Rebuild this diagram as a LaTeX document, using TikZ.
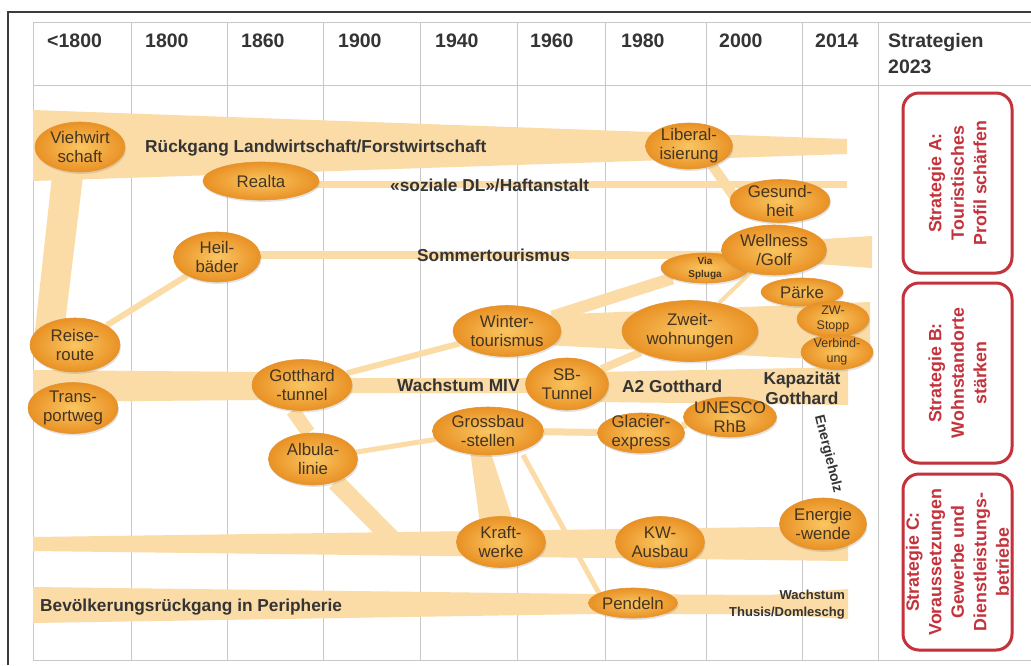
\documentclass[tikz,border=0pt]{standalone}
\usepackage{fontspec}
\setmainfont{Liberation Sans}
\usetikzlibrary{shapes.geometric,shadows}
\pgfdeclarelayer{lgrid}
\pgfdeclarelayer{lband}
\pgfsetlayers{lgrid,lband,main}
\definecolor{band}{RGB}{251,219,166}
\definecolor{gridc}{RGB}{200,200,200}
\definecolor{nin}{RGB}{250,198,98}
\definecolor{nout}{RGB}{233,145,36}
\definecolor{nedge}{RGB}{226,150,55}
\definecolor{ntxt}{RGB}{68,52,32}
\definecolor{lbl}{RGB}{52,52,52}
\definecolor{strat}{RGB}{196,50,60}
\definecolor{frame}{RGB}{60,60,60}
\newcommand\fsz[2]{\fontsize{#1}{#2}\selectfont}
\begin{document}
\begin{tikzpicture}[x=1pt,y=-1pt,
  nd/.style n args={3}{ellipse, minimum width=#1pt, minimum height=#2pt, inner sep=0pt,
     draw=nedge, line width=0.6pt, inner color=nin, outer color=nout,
     drop shadow={opacity=0.22, shadow xshift=1pt, shadow yshift=-2pt},
     label={[ntext]center:#3}},
  ntext/.style={align=center, text=ntxt, font=\fsz{16.8}{19}, inner sep=0pt},
  nsmall/.style={align=center, text=ntxt, font=\fsz{12.5}{15}, inner sep=0pt},
  lab/.style={text=lbl, font=\bfseries\fsz{17.3}{20}, inner sep=0pt},
  head/.style={text=lbl, font=\bfseries\fsz{19.5}{26}, inner sep=0pt, anchor=base west},
  bandfill/.style={fill=band},
  bandline/.style={draw=band, line cap=butt},
  gridline/.style={draw=gridc, line width=0.9pt},
  stratbox/.style={draw=strat, line width=3pt, rounded corners=16pt, fill=white,
     minimum width=109pt, inner sep=0pt,
     drop shadow={opacity=0.25, shadow xshift=1.5pt, shadow yshift=-1.5pt}},
  strattext/.style={text=strat, font=\bfseries\fsz{17.8}{22.5}, align=center, rotate=90, inner sep=0pt}
]
\useasboundingbox (0,0) rectangle (1031,665);

% ---------- grid ----------
\begin{pgfonlayer}{lgrid}
\fill[white] (0,0) rectangle (1031,665);
\foreach \x in {33,131,227,323,420,517,605,706,802,878}
  \draw[gridline] (\x,22) -- (\x,660);
\draw[gridline] (33,22) -- (1031,22);
\draw[gridline] (33,85) -- (1031,85);
\draw[gridline] (33,660) -- (1031,660);
\end{pgfonlayer}
\draw[frame, line width=1.2pt] (8,665) -- (8,12) -- (1031,12);

% ---------- header ----------
\node[head] (h0) at (47,47) {<1800};
\node[head] (h1) at (145,47) {1800};
\node[head] (h2) at (241,47) {1860};
\node[head] (h3) at (338,47) {1900};
\node[head] (h4) at (435,47) {1940};
\node[head] (h5) at (530,47) {1960};
\node[head] (h6) at (621,47) {1980};
\node[head] (h7) at (719,47) {2000};
\node[head] (h8) at (815,47) {2014};
\node[head] (h9) at (888,47) {Strategien};
\node[head] (h10) at (888,73) {2023};

% ---------- nodes ----------
\node[nd={90}{50}{Viehwirt\\schaft}] (vieh) at (80,147) {};
\node[nd={116}{38}{Realta}] (realta) at (261,181) {};
\node[nd={87}{50}{Heil-\\bäder}] (heil) at (217,257) {};
\node[nd={90}{54}{Reise-\\route}] (reise) at (75,345) {};
\node[nd={90}{51}{Trans-\\portweg}] (trans) at (73,408) {};
\node[nd={100}{51}{Gotthard\\-tunnel}] (gotthard) at (302,385) {};
\node[nd={89}{52}{Albula-\\linie}] (albula) at (313,459) {};
\node[nd={108}{51}{Winter-\\tourismus}] (winter) at (507,331) {};
\node[nd={83}{52}{SB-\\Tunnel}] (sb) at (567,384) {};
\node[nd={111}{48}{Grossbau\\-stellen}] (grossbau) at (488,431) {};
\node[nd={89}{51}{Kraft-\\werke}] (kraft) at (501,542) {};
\node[nd={89}{51}{KW-\\Ausbau}] (kw) at (660,542) {};
\node[nd={89}{30}{Pendeln}] (pendeln) at (633,603) {};
\node[nd={87}{40}{Glacier-\\express}] (glacier) at (641,433) {};
\node[nd={93}{40}{UNESCO\\RhB}] (unesco) at (730,417) {};
\node[nd={136}{61}{Zweit-\\wohnungen}] (zweit) at (690,331) {};
\node[nd={87}{46}{Liberal-\\isierung}] (liberal) at (689,146) {};
\node[nd={100}{43}{Gesund-\\heit}] (gesund) at (780,201) {};
\node[nd={88}{30}{}, label={[nsmall, font=\bfseries\fsz{10}{13}]center:Via\\Spluga}] (via) at (705,268) {};
\node[nd={105}{50}{Wellness\\/Golf}] (wellness) at (774,250) {};
\node[nd={82}{28}{Pärke}] (parke) at (802,292) {};
\node[nd={72}{36}{}, label={[nsmall]center:ZW-\\Stopp}] (zw) at (833,319) {};
\node[nd={72}{35}{}, label={[nsmall]center:Verbind-\\ung}] (verb) at (837,352) {};
\node[nd={87}{52}{Energie\\-wende}] (energie) at (823,524) {};

\coordinate (albend) at (395,542);
\coordinate (kapend) at (772,397);
\coordinate (gp1) at (523,455);
\coordinate (gp2) at (600,595);

% ---------- bands ----------
\begin{pgfonlayer}{lband}
\fill[bandfill] (33,110) -- (847,139) -- (847,154) -- (33,181) -- cycle;
\fill[bandfill] (52,176) -- (83,176) -- (63,340) -- (34,340) -- cycle;
\fill[bandfill] (300,181) rectangle (847,188);
\fill[bandfill] (255,251) rectangle (800,259);
\fill[bandfill] (790,241) -- (872,236) -- (872,268) -- (790,262) -- cycle;
\fill[bandfill] (545,315) -- (870,302) -- (870,362) -- (545,345) -- cycle;
\fill[bandfill] (33,370) -- (255,372) -- (355,378) -- (525,378) -- (600,372) -- (848,367)
   -- (848,405) -- (600,402) -- (525,393) -- (355,393) -- (255,400) -- (33,402) -- cycle;
\fill[bandfill] (33,537) -- (848,526) -- (848,561) -- (33,551) -- cycle;
\fill[bandfill] (33,587) -- (590,594) -- (770,595) -- (848,589) -- (848,619) -- (770,614)
   -- (590,614) -- (33,623) -- cycle;
\fill[bandfill] (470,450) -- (490,450) -- (514,524) -- (480,524) -- cycle;
\draw[bandline, line width=6pt] (reise) -- (heil);
\draw[bandline, line width=10pt] (712,165) -- (742,208);
\draw[bandline, line width=6pt] (gotthard) -- (winter);
\draw[bandline, line width=12pt] (winter) -- (via);
\draw[bandline, line width=8pt] (sb) -- (zweit);
\draw[bandline, line width=4pt] (wellness) -- (zweit);
\draw[bandline, line width=14pt] (gotthard.250) -- (albula.100);
\draw[bandline, line width=18pt] (albula) -- (albend);
\draw[bandline, line width=5pt] (albula) -- (grossbau);
\draw[bandline, line width=7pt] (grossbau) -- (glacier);
\draw[bandline, line width=7pt] (glacier) -- (unesco);
\draw[bandline, line width=7pt] (unesco) -- (kapend);
\draw[bandline, line width=5pt] (gp1) -- (gp2);
\end{pgfonlayer}

% ---------- labels ----------
\node[lab, anchor=base west] (l1) at (145,152) {Rückgang Landwirtschaft/Forstwirtschaft};
\node[lab, anchor=base west] (l2) at (390,191) {«soziale DL»/Haftanstalt};
\node[lab, anchor=base west] (l3) at (417,261) {Sommertourismus};
\node[lab, anchor=base west] (l4) at (397,391) {Wachstum MIV};
\node[lab, anchor=base west] (l5) at (622,392) {A2 Gotthard};
\node[lab, align=center] (l6) at (802,388) {Kapazität\\Gotthard};
\node[lab, anchor=base west] (l7) at (40,611) {Bevölkerungsrückgang in Peripherie};
\node[lab, align=right, anchor=east, font=\bfseries\fsz{13}{17}] (l8) at (845,605) {Wachstum\\Thusis/Domleschg};
\node[lab, font=\bfseries\fsz{14}{17}, rotate=-76] (l9) at (828,454) {Energieholz};

% ---------- strategies ----------
\node[stratbox, minimum height=180pt] (sa) at (957.5,183) {};
\node[strattext] (sat) at (sa) {Strategie A:\\Touristisches\\Profil schärfen};
\node[stratbox, minimum height=180pt] (sbx) at (957.5,373) {};
\node[strattext] (sbt) at (sbx) {Strategie B:\\Wohnstandorte\\stärken};
\node[stratbox, minimum height=176pt] (sc) at (957.5,562) {};
\node[strattext] (sct) at (sc) {Strategie C:\\Voraussetzungen\\Gewerbe und\\Dienstleistungs-\\betriebe};
\end{tikzpicture}
\end{document}
